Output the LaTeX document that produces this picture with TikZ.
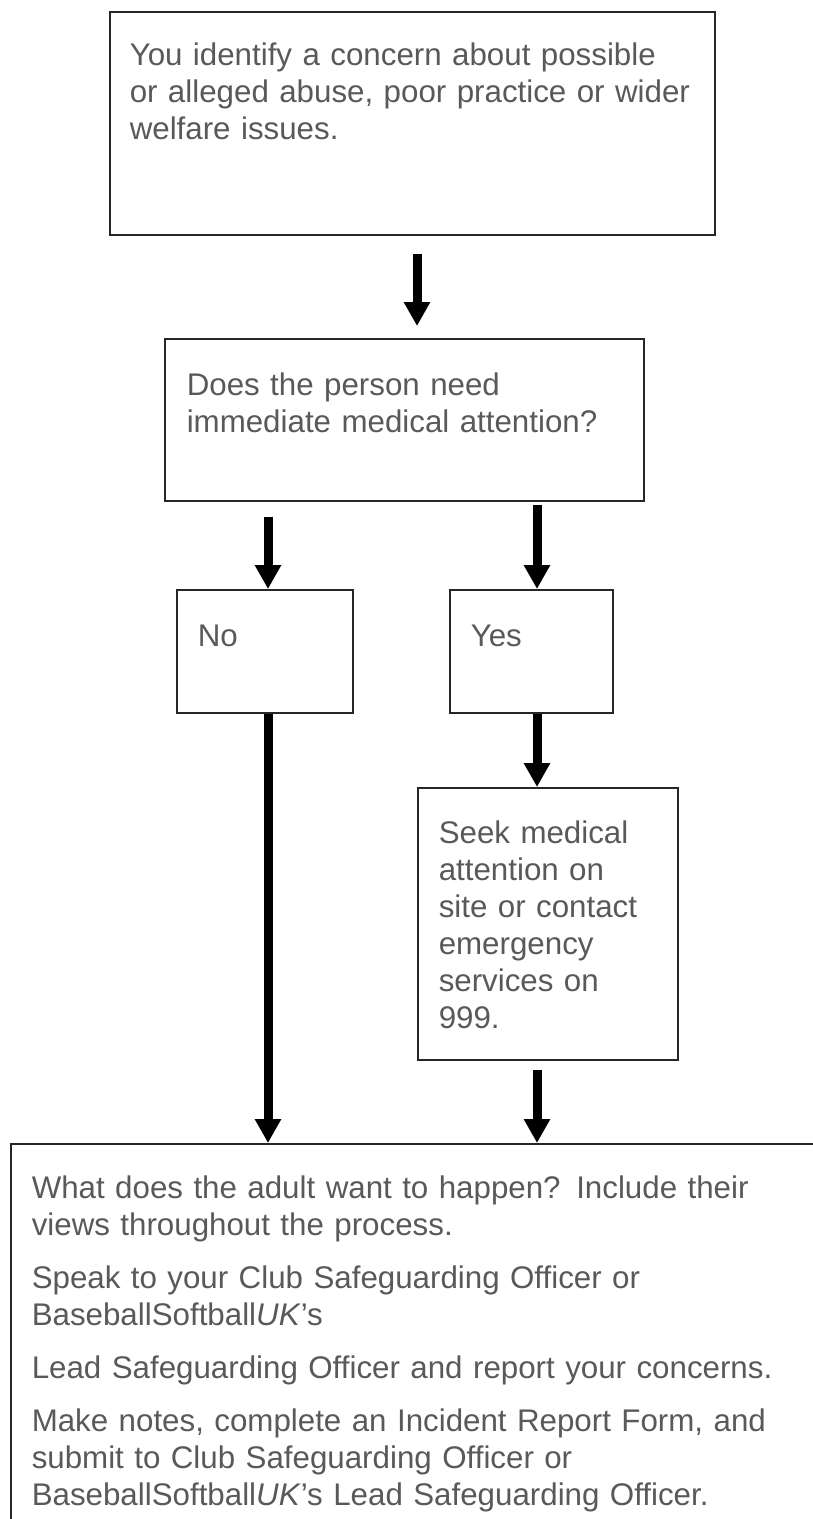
\documentclass[tikz,border=0pt]{standalone}
\usepackage{fontspec}
\setmainfont{Liberation Sans}
\usetikzlibrary{arrows.meta}

\definecolor{textgray}{RGB}{89,89,89}

\tikzset{
  flowbox/.style={draw=black!85, line width=1.5pt, rectangle, anchor=north west, align=left,
    text=textgray, inner ysep=0pt, font=\fontsize{31.3}{37}\selectfont},
  bigarrow/.style={line width=9pt, -{Triangle[width=25pt,length=24pt]}}
}

\begin{document}
\begin{tikzpicture}[x=1pt, y=-1pt]
    \useasboundingbox (0,0) rectangle (813,1519);
    \clip (0,0) rectangle (813,1519);

    % columns of the arrows
    \coordinate (leftx) at (268,0);
    \coordinate (midx) at (417,0);
    \coordinate (rightx) at (537,0);

    \node[flowbox, text width=565pt, inner xsep=20pt, text height=54pt, text depth=169pt] (concern) at (109,11)
        {You identify a concern about possible\\or alleged abuse, poor practice or wider\\welfare issues.};
    \node[flowbox, text width=435pt, inner xsep=22pt, text height=57pt, text depth=105pt] (question) at (164,338)
        {Does the person need\\immediate medical attention?};
    \node[flowbox, text width=134pt, inner xsep=21pt, text height=57pt, text depth=66pt] (nobox) at (176,589) {No};
    \node[flowbox, text width=121pt, inner xsep=21pt, text height=57pt, text depth=66pt] (yesbox) at (449,589) {Yes};
    \node[flowbox, text width=218pt, inner xsep=21pt, text height=56pt, text depth=216pt] (seek) at (417,787)
        {Seek medical\\attention on\\site or contact\\emergency\\services on\\999.};
    \node[flowbox, text width=780pt, inner xsep=21pt, text height=55pt, text depth=420pt] (action) at (10,1143)
        {What does the adult want to happen? Include their\\views throughout the process.\\[16pt]
         Speak to your Club Safeguarding Officer or\\BaseballSoftball\textit{UK}'s\\[16pt]
         Lead Safeguarding Officer and report your concerns.\\[16pt]
         Make notes, complete an Incident Report Form, and\\submit to Club Safeguarding Officer or\\BaseballSoftball\textit{UK}'s Lead Safeguarding Officer.};

    \draw[bigarrow, shorten <=18pt, shorten >=12pt] (concern.south -| midx) -- (question.north -| midx);
    \draw[bigarrow, shorten <=15pt] (question.south -| leftx) -- (nobox.north -| leftx);
    \draw[bigarrow, shorten <=3pt] (question.south -| rightx) -- (yesbox.north -| rightx);
    \draw[bigarrow] (nobox.south -| leftx) -- (action.north -| leftx);
    \draw[bigarrow] (yesbox.south -| rightx) -- (seek.north -| rightx);
    \draw[bigarrow, shorten <=9pt] (seek.south -| rightx) -- (action.north -| rightx);
\end{tikzpicture}
\end{document}
